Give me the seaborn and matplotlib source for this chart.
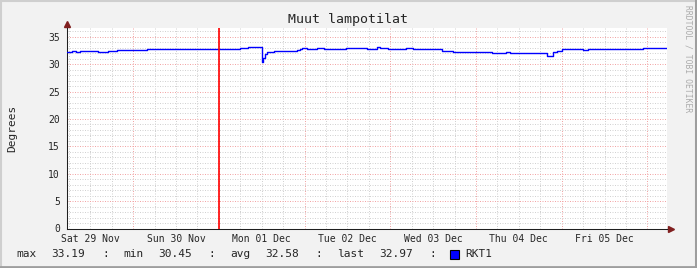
import matplotlib
matplotlib.use("Agg")
import numpy as np
import pandas as pd
import matplotlib.pyplot as plt
import matplotlib.dates as mdates
from matplotlib.ticker import MultipleLocator, FuncFormatter, NullFormatter
from matplotlib.patches import Rectangle
from matplotlib.lines import Line2D
import seaborn as sns

# ---------------- data ----------------
title = "Muut lampotilat"
y_label = "Degrees"
series_name = "RKT1"
watermark = "RRDTOOL / TOBI OETIKER"
start_time = "2025-11-29 05:30"
span_hours = 168
vrule_time = "2025-12-01 00:00"
y_max = 36.6

hours = [0, 1.3, 2.5, 3.5, 5, 6.2, 8.0, 8.8, 10.6, 11.6, 14, 17.6, 19.5, 20.5,
         22.3, 24, 26, 29, 31, 34, 36, 42, 44, 45, 48.4, 50.7, 52, 53.1, 53.8,
         54.6, 55.0, 55.4, 55.9, 56.8, 58.0, 59.5, 60.5, 62, 64.3, 65.2, 65.7,
         67.1, 70, 72, 75, 78, 81, 84, 86.7, 87.6, 90, 93, 95, 97, 99, 101,
         102, 104.9, 108, 110.9, 112.8, 115, 117, 119, 121.2, 123, 124, 126,
         128.2, 130, 132, 134.3, 136.2, 137.1, 138.5, 141, 144.6, 146, 150,
         155, 158, 161.4, 164, 166, 168]
temps = [32.25, 32.4, 32.3, 32.42, 32.38, 32.45, 32.38, 32.15, 32.3, 32.45,
         32.5, 32.52, 32.6, 32.55, 32.72, 32.78, 32.8, 32.75, 32.82, 32.78,
         32.85, 32.85, 32.8, 32.85, 33.0, 33.1, 33.05, 33.19, 33.08, 30.45,
         31.2, 31.9, 32.15, 32.3, 32.42, 32.38, 32.45, 32.4, 32.65, 32.8,
         32.95, 32.85, 32.9, 32.82, 32.85, 32.88, 32.9, 32.85, 33.05, 32.9,
         32.85, 32.8, 32.88, 32.8, 32.85, 32.75, 32.85, 32.35, 32.25, 32.15,
         32.2, 32.15, 32.22, 32.12, 32.08, 32.15, 32.05, 32.1, 32.0, 31.95,
         32.0, 31.5, 32.3, 32.45, 32.8, 32.78, 32.6, 32.78, 32.85, 32.8,
         32.78, 32.88, 32.9, 32.95, 32.97]

stat_names = ["max", "min", "avg", "last"]
stat_values = [33.19, 30.45, 32.58, 32.97]

# ---------------- style ----------------
sns.set_style("white")
plt.rcParams["font.family"] = ["DejaVu Sans Mono", "DejaVu Sans"]

W, H = 697, 268
BACK = "#F2F2F2"
AXIS = "#1F1F1F"
ARROW = "#801F1F"
GRID = "#D2D2D2"
MGRID = "#F2A6A6"

fig = plt.figure(figsize=(W / 100, H / 100), dpi=100, facecolor=BACK)
L, R, T, B = 67, 667, 28, 228.5
ax = fig.add_axes([L / W, 1 - B / H, (R - L) / W, (B - T) / H])
ax.set_facecolor("white")

t0 = pd.Timestamp(start_time)
df = pd.DataFrame({"time": t0 + pd.to_timedelta(hours, unit="h"), "temp": temps})

ax.set_axisbelow(True)
sns.lineplot(data=df, x="time", y="temp", ax=ax, color="#0000FF", lw=1.0,
             drawstyle="steps-post", estimator=None, legend=False, zorder=3)
ax.axvline(pd.Timestamp(vrule_time), color="#FF0000", lw=1.2, zorder=4,
           snap=True)

ax.set_xlim(t0, t0 + pd.Timedelta(hours=span_hours))
ax.set_ylim(0, y_max)

ax.xaxis.set_major_locator(mdates.DayLocator())
ax.xaxis.set_major_formatter(NullFormatter())
ax.xaxis.set_minor_locator(mdates.HourLocator(byhour=[0, 6, 12, 18]))


def day_label(v, p):
    d = mdates.num2date(v)
    return d.strftime("%a %d %b") if d.hour == 12 else ""


ax.xaxis.set_minor_formatter(FuncFormatter(day_label))
ax.yaxis.set_major_locator(MultipleLocator(5))
ax.yaxis.set_minor_locator(MultipleLocator(1))

dots = (0, (1, 1.5))
ax.grid(which="major", color=MGRID, ls=dots, lw=0.72)
ax.grid(which="minor", color=GRID, ls=dots, lw=0.72)

for s in ["top", "right"]:
    ax.spines[s].set_visible(False)
for s in ["left", "bottom"]:
    ax.spines[s].set_color(AXIS)
    ax.spines[s].set_linewidth(0.75)

ax.tick_params(which="both", direction="inout", color=AXIS, width=0.6)
ax.tick_params(which="major", length=3)
ax.tick_params(which="minor", length=2)
ax.tick_params(axis="x", which="minor", labelsize=7, pad=3)
ax.tick_params(axis="y", which="major", labelsize=7, pad=3.5)
ax.set_xlabel("")
ax.set_ylabel("")

# axis extensions and arrows
ax.add_line(Line2D([0, 0], [1, 1.02], transform=ax.transAxes, color=AXIS,
                   lw=0.75, clip_on=False))
ax.plot([0], [1.022], marker="^", color=ARROW, markersize=4,
        transform=ax.transAxes, clip_on=False)
ax.add_line(Line2D([1, 1.005], [0, 0], transform=ax.transAxes, color=AXIS,
                   lw=0.75, clip_on=False))
ax.plot([1.007], [0], marker=">", color=ARROW, markersize=4,
        transform=ax.transAxes, clip_on=False)

# texts
fig.text(0.5, 1 - 19.5 / H, title, ha="center", va="center", fontsize=9.5)
fig.text(12 / W, 1 - 128 / H, y_label, rotation=90, ha="center",
         va="center", fontsize=8)
fig.text(688 / W, 1 - 5 / H, watermark, rotation=270, ha="center",
         va="top", fontsize=5.8, color="#ABABAB")

# legend line
ly = 1 - 254 / H
name_x = [16, 123, 230, 337]
val_x = [51, 158, 265, 379]
colon_x = [102, 208, 315, 429]
for n, v, nx, vx, cx in zip(stat_names, stat_values, name_x, val_x, colon_x):
    fig.text(nx / W, ly, n, ha="left", va="center", fontsize=8)
    fig.text(vx / W, ly, f"{v:.2f}", ha="left", va="center", fontsize=8)
    fig.text(cx / W, ly, ":", ha="left", va="center", fontsize=8)
fig.add_artist(Rectangle((450 / W, 1 - 259 / H), 9 / W, 9.5 / H,
                         transform=fig.transFigure, fc="#0000FF", ec="black",
                         lw=0.8))
fig.text(465 / W, ly, series_name, ha="left", va="center", fontsize=8)

# shaded frame
fig.add_artist(Line2D([0, 1], [1 - 1 / H, 1 - 1 / H], transform=fig.transFigure,
                      color="#CFCFCF", lw=1.5))
fig.add_artist(Line2D([1 / W, 1 / W], [0, 1], transform=fig.transFigure,
                      color="#CFCFCF", lw=1.5))
fig.add_artist(Line2D([0, 1], [1.2 / H, 1.2 / H], transform=fig.transFigure,
                      color="#9E9E9E", lw=2.0))
fig.add_artist(Line2D([1 - 1.5 / W, 1 - 1.5 / W], [0, 1], transform=fig.transFigure,
                      color="#9E9E9E", lw=2.2))

fig.savefig("out.png", dpi=100, facecolor=BACK)
